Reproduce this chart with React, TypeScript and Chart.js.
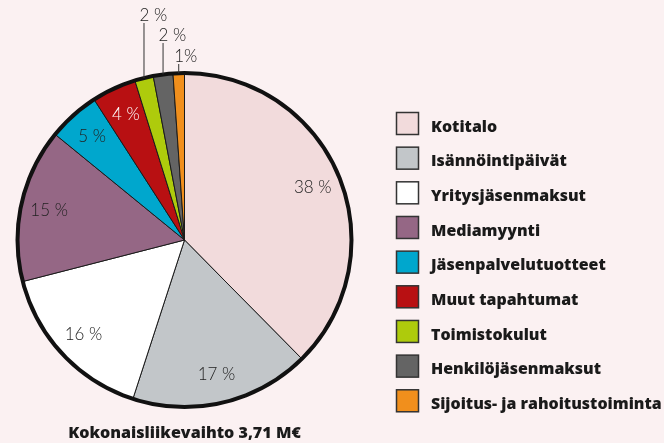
import React, { useEffect, useRef } from "react";
import { Chart, registerables } from "chart.js";

Chart.register(...registerables);

const categories = [
  "Kotitalo",
  "Isännöintipäivät",
  "Yritysjäsenmaksut",
  "Mediamyynti",
  "Jäsenpalvelutuotteet",
  "Muut tapahtumat",
  "Toimistokulut",
  "Henkilöjäsenmaksut",
  "Sijoitus- ja rahoitustoiminta",
];
const shares = [37.6, 17.4, 16.0, 14.9, 5.0, 4.3, 1.8, 1.9, 1.1];
const shareLabels = ["38 %", "17 %", "16 %", "15 %", "5 %", "4 %", "2 %", "2 %", "1%"];
const sliceColors = [
  "#f2dbdc",
  "#c2c6c9",
  "#ffffff",
  "#956785",
  "#00a7cd",
  "#b81012",
  "#aecb0c",
  "#646464",
  "#f18f1c",
];
const labelTextColors = ["#222", "#222", "#222", "#222", "#222", "#fff", "#222", "#222", "#222"];
const titleText = "Kokonaisliikevaihto 3,71 M€";

const BG = "#fbf1f2";
const BOLD_FONT = "'Open Sans', Lato, sans-serif";
const BOLD_WEIGHT = "800";
const LIGHT_FONT = "Lato, 'Open Sans', sans-serif";

function fitSize(text: string, weight: string, family: string, target: number): number {
  const c = document.createElement("canvas").getContext("2d")!;
  c.font = `${weight} 16px ${family}`;
  const w = c.measureText(text).width || 1;
  return (16 * target) / w;
}

export default function App() {
  const ref = useRef<HTMLCanvasElement | null>(null);
  useEffect(() => {
    document.body.style.margin = "0";
    document.body.style.background = BG;
    const legendSize = Math.min(18, fitSize(categories[8], BOLD_WEIGHT, BOLD_FONT, 231));
    const titleSize = Math.min(18, fitSize(titleText, BOLD_WEIGHT, BOLD_FONT, 233));

    const piePlugin = {
      id: "pieDecor",
      afterDatasetsDraw(chart: any) {
        const ctx = chart.ctx;
        const meta = chart.getDatasetMeta(0);
        const arcs = meta.data;
        if (!arcs.length) return;
        const cx = arcs[0].x;
        const cy = arcs[0].y;
        const R = arcs[0].outerRadius;
        ctx.save();
        ctx.beginPath();
        ctx.arc(cx, cy, R, 0, Math.PI * 2);
        ctx.lineWidth = 4;
        ctx.strokeStyle = "#111";
        ctx.stroke();

        const staggers = [50, 30, 9];
        let k = 0;
        arcs.forEach((arc: any, i: number) => {
          const mid = (arc.startAngle + arc.endAngle) / 2;
          const value = shares[i];
          ctx.font = `300 17px ${LIGHT_FONT}`;
          ctx.fillStyle = labelTextColors[i];
          ctx.textBaseline = "middle";
          if (value >= 3) {
            const r = R * 0.83;
            ctx.textAlign = "center";
            ctx.fillText(shareLabels[i], cx + Math.cos(mid) * r, cy + Math.sin(mid) * r);
          } else {
            const px = cx + Math.cos(mid) * R;
            const py = cy + Math.sin(mid) * R;
            const top = cy - R - staggers[k % staggers.length];
            k++;
            ctx.beginPath();
            ctx.moveTo(px, py);
            ctx.lineTo(px, top);
            ctx.lineWidth = 1;
            ctx.strokeStyle = "#333";
            ctx.stroke();
            ctx.textAlign = "left";
            ctx.fillText(shareLabels[i], px - 4.5, top - 7);
          }
        });
        ctx.restore();
      },
      afterDraw(chart: any) {
        const ctx = chart.ctx;
        const ds = chart.data.datasets[0];
        const labels = chart.data.labels as string[];
        ctx.save();
        labels.forEach((lab, i) => {
          const bx = 396.5;
          const by = 112.5 + i * 34.66;
          ctx.fillStyle = ds.backgroundColor[i];
          ctx.fillRect(bx, by, 22, 22);
          ctx.lineWidth = 1.5;
          ctx.strokeStyle = "#333";
          ctx.strokeRect(bx, by, 22, 22);
          ctx.font = `${BOLD_WEIGHT} ${legendSize}px ${BOLD_FONT}`;
          ctx.fillStyle = "#1a1a1a";
          ctx.textAlign = "left";
          ctx.textBaseline = "alphabetic";
          ctx.fillText(lab, 431, by + 19.2);
        });
        ctx.restore();
      },
    };

    const canvas = ref.current!;
    const chart = new Chart(canvas, {
      type: "pie",
      data: {
        labels: categories,
        datasets: [
          {
            data: shares,
            backgroundColor: sliceColors,
            borderColor: "#1a1a1a",
            borderWidth: 1,
          },
        ],
      },
      options: {
        responsive: false,
        animation: false,
        radius: 167,
        layout: { padding: { top: 72, left: 0, right: 295, bottom: 0 } },
        plugins: {
          legend: { display: false },
          tooltip: { enabled: false },
          title: {
            display: true,
            text: titleText,
            position: "bottom",
            fullSize: false,
            color: "#1a1a1a",
            font: { family: BOLD_FONT, size: titleSize, weight: BOLD_WEIGHT, lineHeight: 19.2 / titleSize },
            padding: { top: 15.8, bottom: 0 },
          },
        },
      } as any,
      plugins: [piePlugin],
    });
    return () => chart.destroy();
  }, []);
  return (
    <div style={{ width: 664, height: 443, background: BG }}>
      <canvas ref={ref} width={664} height={443} style={{ display: "block" }} />
    </div>
  );
}
